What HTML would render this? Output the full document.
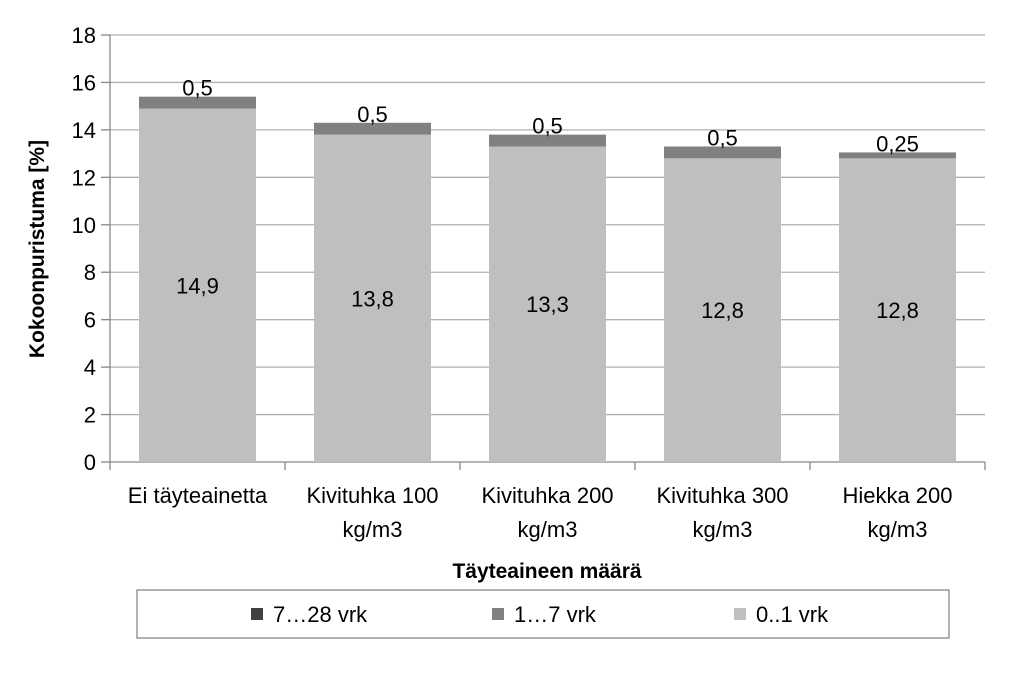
<!DOCTYPE html>
<html><head><meta charset="utf-8"><style>
body{margin:0;background:#fff;}
svg{font-family:"Liberation Sans",Carlito,sans-serif;}
</style></head><body>
<svg id="chart" width="1024" height="669" xmlns="http://www.w3.org/2000/svg"></svg>
<script>
const categories=[["Ei täyteainetta"],["Kivituhka 100","kg/m3"],["Kivituhka 200","kg/m3"],["Kivituhka 300","kg/m3"],["Hiekka 200","kg/m3"]];
const s01=[14.9,13.8,13.3,12.8,12.8];
const s17=[0.5,0.5,0.5,0.5,0.25];
const s17labels=["0,5","0,5","0,5","0,5","0,25"];
const s01labels=["14,9","13,8","13,3","12,8","12,8"];
const yTicks=[0,2,4,6,8,10,12,14,16,18];
const NS="http://www.w3.org/2000/svg";
const svg=document.getElementById('chart');
const L=110,R=985,T=35,B=462,yMax=18;
const y=v=>B-(v/yMax)*(B-T);
const cw=(R-L)/categories.length;
const x=i=>L+cw*(i+0.5);
const bw=117;
function mk(tag,attrs,txt){const e=document.createElementNS(NS,tag);for(const k in attrs)e.setAttribute(k,attrs[k]);if(txt!==undefined)e.textContent=txt;svg.appendChild(e);return e;}
yTicks.forEach(t=>{
 const g=mk('line',{x1:L,x2:R,y1:y(t),y2:y(t),stroke:t===0?'#888':'#b0b0b0','stroke-width':1.3});
 
 
 const tk=mk('line',{x1:L-9,x2:L,y1:y(t),y2:y(t),stroke:'#888','stroke-width':1.3});
 
 
 const lb=mk('text',{x:L-14,y:y(t)+8,'text-anchor':'end','font-size':22,fill:'#000'},String(t));
 
 
});
const ax=mk('line',{x1:L,x2:L,y1:T,y2:B,stroke:'#888','stroke-width':1.3});


for(let i=0;i<=categories.length;i++){
 const tk=mk('line',{x1:L+cw*i,x2:L+cw*i,y1:B,y2:B+8,stroke:'#888','stroke-width':1.3});
 
 
}
categories.forEach((c,i)=>{
 const cx=x(i);
 const b1=mk('rect',{x:cx-bw/2,y:y(s01[i]),width:bw,height:y(0)-y(s01[i]),fill:'#bfbfbf'});
 
 
 const top=s01[i]+s17[i];
 const b2=mk('rect',{x:cx-bw/2,y:y(top),width:bw,height:y(s01[i])-y(top),fill:'#808080'});
 
 
 const l2=mk('text',{x:cx,y:y(top)-1,'text-anchor':'middle','font-size':22},s17labels[i]);
 
 
 const l1=mk('text',{x:cx,y:(y(0)+y(s01[i]))/2+8,'text-anchor':'middle','font-size':22},s01labels[i]);
 
 
 c.forEach((ln,j)=>{
  const t=mk('text',{x:cx,y:503+j*34,'text-anchor':'middle','font-size':22},ln);
  
  
 });
});
const yt=mk('text',{x:0,y:0,'text-anchor':'middle','font-size':21,'font-weight':'bold',transform:'translate(44,249) rotate(-90)'},'Kokoonpuristuma [%]');


const xt=mk('text',{x:547,y:578,'text-anchor':'middle','font-size':21,'font-weight':'bold'},'Täyteaineen määrä');


const lg=mk('rect',{x:137,y:590,width:812,height:48,fill:'#fff',stroke:'#888','stroke-width':1.3});


const legItems=[["7…28 vrk","#404040",251],["1…7 vrk","#808080",492],["0..1 vrk","#bfbfbf",734]];
legItems.forEach(it=>{
 const s=mk('rect',{x:it[2],y:608,width:12,height:12,fill:it[1]});
 
 
 const t=mk('text',{x:it[2]+22,y:622,'font-size':22},it[0]);
 
 
});
</script>
</body></html>
